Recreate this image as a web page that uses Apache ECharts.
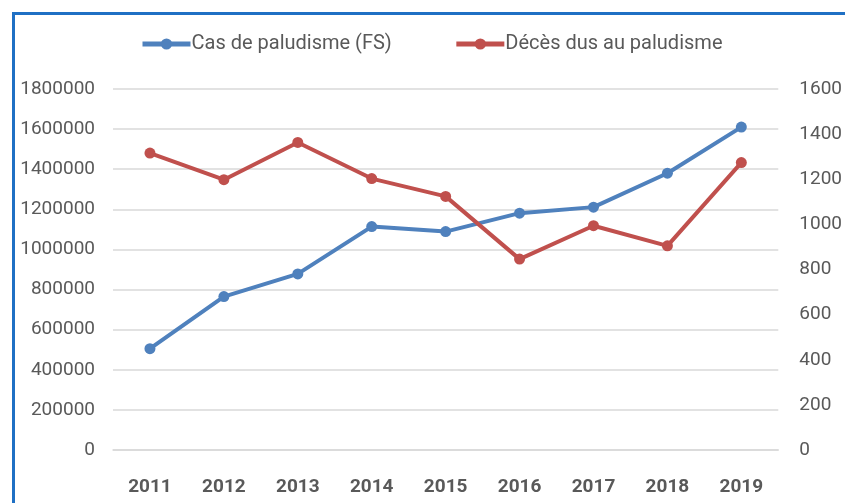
<!DOCTYPE html>
<html>
<head>
<meta charset="utf-8">
<script src="https://cdn.jsdelivr.net/npm/echarts@6/dist/echarts.min.js"></script>
<style>
    html, body { margin: 0; padding: 0; background: #fff; }
    #frame { position: absolute; left: 12px; top: 12px; width: 840px; height: 500px;
             border-left: 3px solid #1f70c4; border-top: 3px solid #1f70c4; }
    #chart { position: absolute; left: 0; top: 0; width: 845px; height: 503px; }
</style>
</head>
<body>
<div id="frame"></div>
<div id="chart"></div>
<script>
// années
var years = ['2011', '2012', '2013', '2014', '2015', '2016', '2017', '2018', '2019'];
// cas de paludisme (axe gauche)
var casPaludisme = [505000, 765000, 878000, 1114000, 1089000, 1181000, 1211000, 1380000, 1610000];
// décès (axe droit)
var decesPaludisme = [1316, 1198, 1363, 1203, 1124, 846, 994, 905, 1274];

var labelColor = '#595959';
var gridColor = '#d9d9d9';

var options = {
    textStyle: { fontFamily: 'Roboto' },
    color: ['#4f81bd', '#c0504d'],
    legend: {
        left: 135,
        top: 29,
        itemWidth: 48,
        itemHeight: 14,
        itemGap: 62,
        lineStyle: { width: 5 },
        textStyle: { fontSize: 20, color: labelColor, padding: [0, 0, 0, -4] },
        data: ['Cas de paludisme (FS)', 'Décès dus au paludisme']
    },
    grid: {
        left: 113,
        right: 59,
        top: 89,
        bottom: 53
    },
    xAxis: {
        type: 'category',
        data: years,
        axisTick: { show: false },
        axisLine: { lineStyle: { color: gridColor, width: 1.5 } },
        axisLabel: { margin: 28, fontSize: 19, fontWeight: 'bold', color: labelColor }
    },
    yAxis: [
        {
            type: 'value',
            min: 0,
            max: 1800000,
            interval: 200000,
            axisLabel: { margin: 18, fontSize: 19, color: labelColor, formatter: function (v) { return String(v); } },
            axisLine: { show: false },
            axisTick: { show: false },
            splitLine: { lineStyle: { color: gridColor, width: 1.5 } }
        },
        {
            type: 'value',
            min: 0,
            max: 1600,
            interval: 200,
            position: 'right',
            axisLabel: { margin: 21, fontSize: 19, color: labelColor, formatter: function (v) { return String(v); } },
            axisLine: { show: false },
            axisTick: { show: false },
            splitLine: { show: false }
        }
    ],
    series: [
        {
            name: 'Cas de paludisme (FS)',
            type: 'line',
            yAxisIndex: 0,
            data: casPaludisme,
            symbol: 'circle',
            symbolSize: 11,
            lineStyle: { width: 4 }
        },
        {
            name: 'Décès dus au paludisme',
            type: 'line',
            yAxisIndex: 1,
            data: decesPaludisme,
            symbol: 'circle',
            symbolSize: 11,
            lineStyle: { width: 4 }
        }
    ]
};

var chart = echarts.init(document.getElementById('chart'));
chart.setOption(options);
</script>
</body>
</html>
